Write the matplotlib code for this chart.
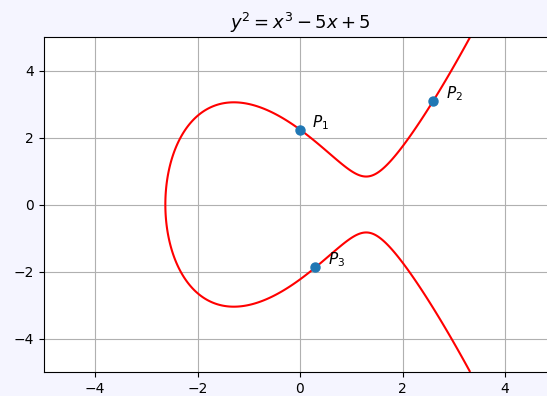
import numpy as np
import matplotlib.pyplot as plt

# Curve y^2 = x^3 + a*x + b
a = -5
b = 5

# Marked points on the curve
point_labels = ["$P_1$", "$P_2$", "$P_3$"]
point_x = [0.0, 2.6, 0.3]
point_y = [2.236, 3.094, -1.878]

x_ticks = [-4, -2, 0, 2, 4]
y_ticks = [-4, -2, 0, 2, 4]

fig = plt.figure(figsize=(5.47, 3.96), dpi=100, facecolor="#f5f5ff")
ax = fig.add_axes([43.75 / 547, 24 / 396, 512.5 / 547, 335 / 396])

xs = np.linspace(-5, 5, 800)
ys = np.linspace(-5, 5, 800)
X, Y = np.meshgrid(xs, ys)
ax.contour(X, Y, Y**2 - X**3 - a * X - b, levels=[0], colors="red", linewidths=1.5)

ax.plot(point_x, point_y, "o", color="C0", markersize=6.5, zorder=3)
for lab, px, py in zip(point_labels, point_x, point_y):
    ax.text(px + 0.24, py + 0.22, lab, fontsize=11, va="center", ha="left")

ax.set_xlim(-5, 5)
ax.set_ylim(-5, 5)
ax.set_xticks(x_ticks)
ax.set_yticks(y_ticks)
ax.grid(True, color="#b0b0b0", linewidth=0.8)
ax.set_axisbelow(True)
ax.set_title(r"$y^2 = x^3 - 5x + 5$", fontsize=13)

fig.savefig("out.png", dpi=100, facecolor=fig.get_facecolor())
